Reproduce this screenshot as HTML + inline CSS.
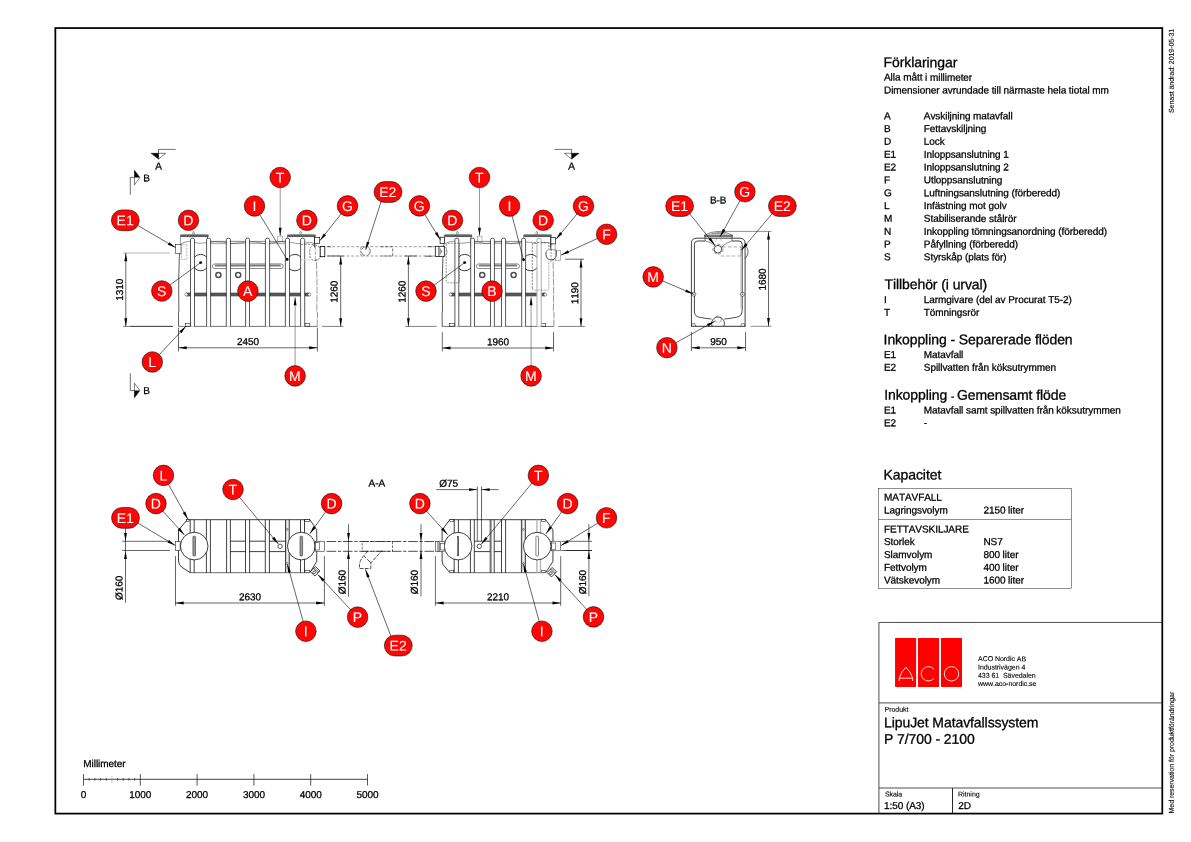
<!DOCTYPE html>
<html><head><meta charset="utf-8"><title>LipuJet Matavfallssystem</title>
<style>html,body{margin:0;padding:0;background:#fff}svg{display:block;will-change:transform}text{font-family:"Liberation Sans", sans-serif;text-rendering:geometricPrecision;stroke-linejoin:round;letter-spacing:-0.006em;font-kerning:none}</style></head><body>
<svg width="1191" height="842" viewBox="0 0 1191 842">
<rect x="0" y="0" width="1191" height="842" fill="#fff"/>
<rect x="55.35" y="28.05" width="1106.95" height="785.55" stroke="#000" stroke-width="1.75" fill="none"/>
<line x1="878.9" y1="622.45" x2="1162.3" y2="622.45" stroke="#222" stroke-width="0.8"/>
<line x1="878.9" y1="702.9" x2="1162.3" y2="702.9" stroke="#222" stroke-width="0.8"/>
<line x1="878.9" y1="788" x2="1162.3" y2="788" stroke="#222" stroke-width="0.8"/>
<line x1="878.9" y1="622.45" x2="878.9" y2="813.6" stroke="#222" stroke-width="0.8"/>
<line x1="952.5" y1="788" x2="952.5" y2="813.6" stroke="#111" stroke-width="0.9"/>
<rect x="895.05" y="638" width="21.05" height="48.95" stroke="#000" stroke-width="0" fill="#fe0000" rx="0.6"/>
<rect x="918" y="638" width="21.05" height="48.95" stroke="#000" stroke-width="0" fill="#fe0000" rx="0.6"/>
<rect x="940.95" y="638" width="21.05" height="48.95" stroke="#000" stroke-width="0" fill="#fe0000" rx="0.6"/>
<path d="M899.2 681 L899.2 678.2 Q901.2 671.2 905.8 667.4 Q910.6 671.2 912.7 678.2 L912.7 681 M899.2 678.2 L912.7 678.2" stroke="#fff" stroke-width="0.85" fill="none" />
<path d="M934.07 669.37 A7.2 7.2 0 1 0 934.07 678.23" stroke="#fff" stroke-width="0.85" fill="none" />
<circle cx="951.5" cy="673.8" r="7.2" stroke="#fff" stroke-width="0.85" fill="none"/>
<text x="978" y="661.1" font-size="7" fill="#000" stroke="#000" stroke-width="0.12" transform="rotate(0.05 978 661.1)" >ACO Nordic AB</text>
<text x="978" y="669.4" font-size="7" fill="#000" stroke="#000" stroke-width="0.12" transform="rotate(0.05 978 669.4)" >Industrivägen 4</text>
<text x="978" y="677.7" font-size="7" fill="#000" stroke="#000" stroke-width="0.12" transform="rotate(0.05 978 677.7)" >433 61&#160; Sävedalen</text>
<text x="978" y="686" font-size="7" fill="#000" stroke="#000" stroke-width="0.12" transform="rotate(0.05 978 686)" >www.aco-nordic.se</text>
<text x="884.6" y="711.7" font-size="7" fill="#000" stroke="#000" stroke-width="0.12" transform="rotate(0.05 884.6 711.7)" >Produkt</text>
<text x="884" y="727.2" font-size="14" fill="#000" stroke="#000" stroke-width="0.3" transform="rotate(0.05 884 727.2)" >LipuJet Matavfallssystem</text>
<text x="884" y="743.7" font-size="14" fill="#000" stroke="#000" stroke-width="0.3" transform="rotate(0.05 884 743.7)" >P 7/700 - 2100</text>
<text x="884.9" y="796.6" font-size="7" fill="#000" stroke="#000" stroke-width="0.12" transform="rotate(0.05 884.9 796.6)" >Skala</text>
<text x="884" y="808.9" font-size="10" fill="#000" stroke="#000" stroke-width="0.27" transform="rotate(0.05 884 808.9)" >1:50 (A3)</text>
<text x="958.1" y="796.6" font-size="7" fill="#000" stroke="#000" stroke-width="0.12" transform="rotate(0.05 958.1 796.6)" >Ritning</text>
<text x="958.3" y="808.9" font-size="10" fill="#000" stroke="#000" stroke-width="0.27" transform="rotate(0.05 958.3 808.9)" >2D</text>
<text x="1173.8" y="113" font-size="7" fill="#000" stroke="#000" stroke-width="0.12" transform="rotate(-89.95 1173.8 113)" >Senast ändrad: 2019-05-31</text>
<text x="1173.8" y="813.5" font-size="7" fill="#000" stroke="#000" stroke-width="0.12" transform="rotate(-89.95 1173.8 813.5)" >Med reservation för produktförändringar</text>
<text x="883.6" y="67.1" font-size="14" fill="#000" stroke="#000" stroke-width="0.3" transform="rotate(0.05 883.6 67.1)" >Förklaringar</text>
<text x="884" y="80.6" font-size="10" fill="#000" stroke="#000" stroke-width="0.27" transform="rotate(0.05 884 80.6)" >Alla mått i millimeter</text>
<text x="884" y="93.4" font-size="10" fill="#000" stroke="#000" stroke-width="0.27" transform="rotate(0.05 884 93.4)" >Dimensioner avrundade till närmaste hela tiotal mm</text>
<text x="884" y="119.2" font-size="10" fill="#000" stroke="#000" stroke-width="0.27" transform="rotate(0.05 884 119.2)" >A</text>
<text x="923.8" y="119.2" font-size="10" fill="#000" stroke="#000" stroke-width="0.27" transform="rotate(0.05 923.8 119.2)" >Avskiljning matavfall</text>
<text x="884" y="132.03" font-size="10" fill="#000" stroke="#000" stroke-width="0.27" transform="rotate(0.05 884 132.03)" >B</text>
<text x="923.8" y="132.03" font-size="10" fill="#000" stroke="#000" stroke-width="0.27" transform="rotate(0.05 923.8 132.03)" >Fettavskiljning</text>
<text x="884" y="144.86" font-size="10" fill="#000" stroke="#000" stroke-width="0.27" transform="rotate(0.05 884 144.86)" >D</text>
<text x="923.8" y="144.86" font-size="10" fill="#000" stroke="#000" stroke-width="0.27" transform="rotate(0.05 923.8 144.86)" >Lock</text>
<text x="884" y="157.69" font-size="10" fill="#000" stroke="#000" stroke-width="0.27" transform="rotate(0.05 884 157.69)" >E1</text>
<text x="923.8" y="157.69" font-size="10" fill="#000" stroke="#000" stroke-width="0.27" transform="rotate(0.05 923.8 157.69)" >Inloppsanslutning 1</text>
<text x="884" y="170.52" font-size="10" fill="#000" stroke="#000" stroke-width="0.27" transform="rotate(0.05 884 170.52)" >E2</text>
<text x="923.8" y="170.52" font-size="10" fill="#000" stroke="#000" stroke-width="0.27" transform="rotate(0.05 923.8 170.52)" >Inloppsanslutning 2</text>
<text x="884" y="183.35" font-size="10" fill="#000" stroke="#000" stroke-width="0.27" transform="rotate(0.05 884 183.35)" >F</text>
<text x="923.8" y="183.35" font-size="10" fill="#000" stroke="#000" stroke-width="0.27" transform="rotate(0.05 923.8 183.35)" >Utloppsanslutning</text>
<text x="884" y="196.18" font-size="10" fill="#000" stroke="#000" stroke-width="0.27" transform="rotate(0.05 884 196.18)" >G</text>
<text x="923.8" y="196.18" font-size="10" fill="#000" stroke="#000" stroke-width="0.27" transform="rotate(0.05 923.8 196.18)" >Luftningsanslutning (förberedd)</text>
<text x="884" y="209.01" font-size="10" fill="#000" stroke="#000" stroke-width="0.27" transform="rotate(0.05 884 209.01)" >L</text>
<text x="923.8" y="209.01" font-size="10" fill="#000" stroke="#000" stroke-width="0.27" transform="rotate(0.05 923.8 209.01)" >Infästning mot golv</text>
<text x="884" y="221.84" font-size="10" fill="#000" stroke="#000" stroke-width="0.27" transform="rotate(0.05 884 221.84)" >M</text>
<text x="923.8" y="221.84" font-size="10" fill="#000" stroke="#000" stroke-width="0.27" transform="rotate(0.05 923.8 221.84)" >Stabiliserande stålrör</text>
<text x="884" y="234.67" font-size="10" fill="#000" stroke="#000" stroke-width="0.27" transform="rotate(0.05 884 234.67)" >N</text>
<text x="923.8" y="234.67" font-size="10" fill="#000" stroke="#000" stroke-width="0.27" transform="rotate(0.05 923.8 234.67)" >Inkoppling tömningsanordning (förberedd)</text>
<text x="884" y="247.5" font-size="10" fill="#000" stroke="#000" stroke-width="0.27" transform="rotate(0.05 884 247.5)" >P</text>
<text x="923.8" y="247.5" font-size="10" fill="#000" stroke="#000" stroke-width="0.27" transform="rotate(0.05 923.8 247.5)" >Påfyllning (förberedd)</text>
<text x="884" y="260.33" font-size="10" fill="#000" stroke="#000" stroke-width="0.27" transform="rotate(0.05 884 260.33)" >S</text>
<text x="923.8" y="260.33" font-size="10" fill="#000" stroke="#000" stroke-width="0.27" transform="rotate(0.05 923.8 260.33)" >Styrskåp (plats för)</text>
<text x="884.5" y="289.1" font-size="14" fill="#000" stroke="#000" stroke-width="0.3" transform="rotate(0.05 884.5 289.1)" >Tillbehör (i urval)</text>
<text x="884" y="302.9" font-size="10" fill="#000" stroke="#000" stroke-width="0.27" transform="rotate(0.05 884 302.9)" >I</text>
<text x="923.8" y="302.9" font-size="10" fill="#000" stroke="#000" stroke-width="0.27" transform="rotate(0.05 923.8 302.9)" >Larmgivare (del av Procurat T5-2)</text>
<text x="884" y="315.73" font-size="10" fill="#000" stroke="#000" stroke-width="0.27" transform="rotate(0.05 884 315.73)" >T</text>
<text x="923.8" y="315.73" font-size="10" fill="#000" stroke="#000" stroke-width="0.27" transform="rotate(0.05 923.8 315.73)" >Tömningsrör</text>
<text x="883.6" y="344.2" font-size="14" fill="#000" stroke="#000" stroke-width="0.3" transform="rotate(0.05 883.6 344.2)" >Inkoppling - Separerade flöden</text>
<text x="884" y="357.9" font-size="10" fill="#000" stroke="#000" stroke-width="0.27" transform="rotate(0.05 884 357.9)" >E1</text>
<text x="923.8" y="357.9" font-size="10" fill="#000" stroke="#000" stroke-width="0.27" transform="rotate(0.05 923.8 357.9)" >Matavfall</text>
<text x="884" y="370.73" font-size="10" fill="#000" stroke="#000" stroke-width="0.27" transform="rotate(0.05 884 370.73)" >E2</text>
<text x="923.8" y="370.73" font-size="10" fill="#000" stroke="#000" stroke-width="0.27" transform="rotate(0.05 923.8 370.73)" >Spillvatten från köksutrymmen</text>
<text x="884.2" y="399.6" font-size="14" fill="#000" stroke="#000" stroke-width="0.3" transform="rotate(0.05 884.2 399.6)" >Inkoppling <tspan font-size="10">- </tspan>Gemensamt flöde</text>
<text x="884" y="413.4" font-size="10" fill="#000" stroke="#000" stroke-width="0.27" transform="rotate(0.05 884 413.4)" >E1</text>
<text x="923.8" y="413.4" font-size="10" fill="#000" stroke="#000" stroke-width="0.27" transform="rotate(0.05 923.8 413.4)" >Matavfall samt spillvatten från köksutrymmen</text>
<text x="884" y="426.23" font-size="10" fill="#000" stroke="#000" stroke-width="0.27" transform="rotate(0.05 884 426.23)" >E2</text>
<text x="923.8" y="426.23" font-size="10" fill="#000" stroke="#000" stroke-width="0.27" transform="rotate(0.05 923.8 426.23)" >-</text>
<text x="883.6" y="479.4" font-size="14" fill="#000" stroke="#000" stroke-width="0.3" transform="rotate(0.05 883.6 479.4)" >Kapacitet</text>
<rect x="878.5" y="488.6" width="192.8" height="99.8" stroke="#222" stroke-width="0.5" fill="none"/>
<line x1="878.5" y1="519.5" x2="1071.3" y2="519.5" stroke="#222" stroke-width="0.5"/>
<text x="884" y="500.6" font-size="10" fill="#000" stroke="#000" stroke-width="0.27" transform="rotate(0.05 884 500.6)" >MATAVFALL</text>
<text x="884" y="513.5" font-size="10" fill="#000" stroke="#000" stroke-width="0.27" transform="rotate(0.05 884 513.5)" >Lagringsvolym</text>
<text x="983.4" y="513.5" font-size="10" fill="#000" stroke="#000" stroke-width="0.27" transform="rotate(0.05 983.4 513.5)" >2150 liter</text>
<text x="884" y="532.4" font-size="10" fill="#000" stroke="#000" stroke-width="0.27" transform="rotate(0.05 884 532.4)" >FETTAVSKILJARE</text>
<text x="884" y="545.1" font-size="10" fill="#000" stroke="#000" stroke-width="0.27" transform="rotate(0.05 884 545.1)" >Storlek</text>
<text x="983.4" y="545.1" font-size="10" fill="#000" stroke="#000" stroke-width="0.27" transform="rotate(0.05 983.4 545.1)" >NS7</text>
<text x="884" y="557.9" font-size="10" fill="#000" stroke="#000" stroke-width="0.27" transform="rotate(0.05 884 557.9)" >Slamvolym</text>
<text x="983.4" y="557.9" font-size="10" fill="#000" stroke="#000" stroke-width="0.27" transform="rotate(0.05 983.4 557.9)" >800 liter</text>
<text x="884" y="570.7" font-size="10" fill="#000" stroke="#000" stroke-width="0.27" transform="rotate(0.05 884 570.7)" >Fettvolym</text>
<text x="983.4" y="570.7" font-size="10" fill="#000" stroke="#000" stroke-width="0.27" transform="rotate(0.05 983.4 570.7)" >400 liter</text>
<text x="884" y="583.5" font-size="10" fill="#000" stroke="#000" stroke-width="0.27" transform="rotate(0.05 884 583.5)" >Vätskevolym</text>
<text x="983.4" y="583.5" font-size="10" fill="#000" stroke="#000" stroke-width="0.27" transform="rotate(0.05 983.4 583.5)" >1600 liter</text>
<text x="83.3" y="767" font-size="10" fill="#000" stroke="#000" stroke-width="0.27" transform="rotate(0.05 83.3 767)" >Millimeter</text>
<line x1="83.5" y1="779.3" x2="367.5" y2="779.3" stroke="#111" stroke-width="0.8"/>
<line x1="83.5" y1="774.1" x2="83.5" y2="785.6" stroke="#111" stroke-width="0.7"/>
<text x="83.5" y="798" font-size="10" fill="#000" stroke="#000" stroke-width="0.27" text-anchor="middle" transform="rotate(0.05 83.5 798)" >0</text>
<line x1="140.3" y1="774.1" x2="140.3" y2="785.6" stroke="#111" stroke-width="0.7"/>
<text x="140.3" y="798" font-size="10" fill="#000" stroke="#000" stroke-width="0.27" text-anchor="middle" transform="rotate(0.05 140.3 798)" >1000</text>
<line x1="197.1" y1="774.1" x2="197.1" y2="785.6" stroke="#111" stroke-width="0.7"/>
<text x="197.1" y="798" font-size="10" fill="#000" stroke="#000" stroke-width="0.27" text-anchor="middle" transform="rotate(0.05 197.1 798)" >2000</text>
<line x1="253.9" y1="774.1" x2="253.9" y2="785.6" stroke="#111" stroke-width="0.7"/>
<text x="253.9" y="798" font-size="10" fill="#000" stroke="#000" stroke-width="0.27" text-anchor="middle" transform="rotate(0.05 253.9 798)" >3000</text>
<line x1="310.7" y1="774.1" x2="310.7" y2="785.6" stroke="#111" stroke-width="0.7"/>
<text x="310.7" y="798" font-size="10" fill="#000" stroke="#000" stroke-width="0.27" text-anchor="middle" transform="rotate(0.05 310.7 798)" >4000</text>
<line x1="367.5" y1="774.1" x2="367.5" y2="785.6" stroke="#111" stroke-width="0.7"/>
<text x="367.5" y="798" font-size="10" fill="#000" stroke="#000" stroke-width="0.27" text-anchor="middle" transform="rotate(0.05 367.5 798)" >5000</text>
<line x1="89.18" y1="777.9" x2="89.18" y2="780.7" stroke="#111" stroke-width="0.6"/>
<line x1="94.86" y1="777.9" x2="94.86" y2="780.7" stroke="#111" stroke-width="0.6"/>
<line x1="100.54" y1="777.9" x2="100.54" y2="780.7" stroke="#111" stroke-width="0.6"/>
<line x1="106.22" y1="777.9" x2="106.22" y2="780.7" stroke="#111" stroke-width="0.6"/>
<line x1="111.9" y1="776.2" x2="111.9" y2="782.9" stroke="#999" stroke-width="0.7"/>
<line x1="117.58" y1="777.9" x2="117.58" y2="780.7" stroke="#111" stroke-width="0.6"/>
<line x1="123.26" y1="777.9" x2="123.26" y2="780.7" stroke="#111" stroke-width="0.6"/>
<line x1="128.94" y1="777.9" x2="128.94" y2="780.7" stroke="#111" stroke-width="0.6"/>
<line x1="134.62" y1="777.9" x2="134.62" y2="780.7" stroke="#111" stroke-width="0.6"/>
<line x1="130" y1="326.4" x2="172.8" y2="326.4" stroke="#000" stroke-width="0.5"/>
<line x1="322" y1="326.4" x2="343.4" y2="326.4" stroke="#000" stroke-width="0.5"/>
<line x1="405.2" y1="326.4" x2="436.6" y2="326.4" stroke="#000" stroke-width="0.5"/>
<line x1="558.3" y1="326.4" x2="584.9" y2="326.4" stroke="#000" stroke-width="0.5"/>
<line x1="327.2" y1="246.7" x2="435.3" y2="246.7" stroke="#9a9a9a" stroke-width="0.9" stroke-dasharray="3.1 1.7"/>
<line x1="327.2" y1="256" x2="435.3" y2="256" stroke="#9a9a9a" stroke-width="0.9" stroke-dasharray="3.1 1.7"/>
<line x1="327.2" y1="246.7" x2="330.8" y2="246.7" stroke="#222" stroke-width="0.7"/>
<path d="M380.6 246.7 L392.7 246.7 L392.7 256.0 L380.6 256.0" stroke="#222" stroke-width="0.6" fill="none" stroke-dasharray="3.2 1.4" />
<path d="M361.2 246.9 Q359.4 251.3 361.2 255.8" stroke="#333" stroke-width="0.55" fill="none" stroke-dasharray="2.4 1.2" />
<circle cx="365.8" cy="251.2" r="4.5" stroke="#222" stroke-width="0.6" fill="none" stroke-dasharray="5.5 2.2"/>
<path d="M178.6 326.4 L178.5 312.5 L178.9 312 Q178.1 272 180.1 244.6 " stroke="#000" stroke-width="0.65" fill="none" />
<path d="M317.2 326.4 L317.5 312.5 L316.7 312 Q317.5 285 316.3 259 " stroke="#333" stroke-width="0.5" fill="none" stroke-dasharray="7 1.2" />
<line x1="178.6" y1="326.4" x2="317.2" y2="326.4" stroke="#000" stroke-width="0.55"/>
<path d="M180.2 244.4 Q184.2 241.5 190.2 241.2 Q198.45 244.6 206.7 242.8 Q214.95 241 223.2 242.2 Q231.45 244.6 239.7 242.8 Q247.95 241 256.2 242.2 Q264.45 244.6 272.7 242.8 Q280.95 241 289.2 242.2 Q297.45 244.6 305.7 242.8 Q311.7 241.5 315.7 244.2" stroke="#333" stroke-width="0.5" fill="none" />
<line x1="208.6" y1="241.4" x2="287.2" y2="241.4" stroke="#222" stroke-width="0.55"/>
<line x1="210.6" y1="243.6" x2="285.2" y2="243.6" stroke="#000" stroke-width="0.35"/>
<path d="M181.6 235.0 Q194.35 233.6 207.1 235.0" stroke="#888" stroke-width="0.45" fill="none" />
<rect x="180.1" y="234.9" width="28.5" height="1.9" stroke="#000" stroke-width="0" fill="#8c8c8c"/>
<line x1="180.1" y1="235.05" x2="208.6" y2="235.05" stroke="#222" stroke-width="0.7"/>
<line x1="180.5" y1="236.55" x2="208.2" y2="236.55" stroke="#333" stroke-width="0.7"/>
<line x1="180.45" y1="236.4" x2="180.45" y2="244" stroke="#777" stroke-width="0.7"/>
<line x1="207.4" y1="236.4" x2="207.4" y2="247.5" stroke="#222" stroke-width="0.7"/>
<path d="M192.85 234.5 L192.85 231.8 Q193.55 231.0 194.25 231.8 L194.25 234.5" stroke="#444" stroke-width="0.5" fill="none" />
<path d="M288.7 235.0 Q301.45 233.6 314.2 235.0" stroke="#888" stroke-width="0.45" fill="none" />
<rect x="287.2" y="234.9" width="28.5" height="1.9" stroke="#000" stroke-width="0" fill="#8c8c8c"/>
<line x1="287.2" y1="235.05" x2="315.7" y2="235.05" stroke="#222" stroke-width="0.7"/>
<line x1="287.6" y1="236.55" x2="315.3" y2="236.55" stroke="#333" stroke-width="0.7"/>
<line x1="287.55" y1="236.4" x2="287.55" y2="244" stroke="#777" stroke-width="0.7"/>
<line x1="314.5" y1="236.4" x2="314.5" y2="247.5" stroke="#222" stroke-width="0.7"/>
<path d="M299.95 234.5 L299.95 231.8 Q300.65 231.0 301.35 231.8 L301.35 234.5" stroke="#444" stroke-width="0.5" fill="none" />
<circle cx="200.6" cy="262.6" r="8.2" stroke="#000" stroke-width="0.75" fill="none"/>
<circle cx="294.9" cy="262.6" r="8.2" stroke="#000" stroke-width="0.75" fill="none"/>
<rect x="212.4" y="263.9" width="70.8" height="4.6" stroke="#000" stroke-width="0.45" fill="none" rx="2.3"/>
<rect x="214.9" y="264.5" width="65.8" height="2" stroke="#000" stroke-width="0" fill="#7a7a7a"/>
<circle cx="218.4" cy="275" r="2.55" stroke="#505050" stroke-width="1.5" fill="none"/>
<circle cx="238.2" cy="275" r="2.55" stroke="#505050" stroke-width="1.5" fill="none"/>
<rect x="186.7" y="292.85" width="122.4" height="3.3" stroke="#444" stroke-width="0.2" fill="#545454"/>
<circle cx="186.4" cy="294.5" r="1.5" stroke="#000" stroke-width="0.4" fill="#fff"/>
<circle cx="309.4" cy="294.5" r="1.5" stroke="#000" stroke-width="0.4" fill="#fff"/>
<rect x="185.4" y="323.6" width="4.8" height="2.6" stroke="#000" stroke-width="0.5" fill="none"/>
<rect x="305" y="323.6" width="4.8" height="2.6" stroke="#000" stroke-width="0.5" fill="none"/>
<rect x="277.8" y="236.1" width="4.6" height="5.3" stroke="#666" stroke-width="0.45" fill="none"/>
<path d="M190.5 326.4 L190.5 239.6 Q190.5 238.2 192.5 238.2 Q194.5 238.2 194.5 239.6 L194.5 326.4" fill="#fff" stroke="#000" stroke-width="0.65"/>
<path d="M206.6 326.4 L206.6 239.6 Q206.6 238.2 208.6 238.2 Q210.6 238.2 210.6 239.6 L210.6 326.4" fill="#fff" stroke="#000" stroke-width="0.65"/>
<path d="M226.3 326.4 L226.3 239.6 Q226.3 238.2 228.4 238.2 Q230.5 238.2 230.5 239.6 L230.5 326.4" fill="#fff" stroke="#000" stroke-width="0.65"/>
<path d="M245.6 326.4 L245.6 239.6 Q245.6 238.2 247.55 238.2 Q249.5 238.2 249.5 239.6 L249.5 326.4" fill="#fff" stroke="#000" stroke-width="0.65"/>
<path d="M265.4 326.4 L265.4 239.6 Q265.4 238.2 267.5 238.2 Q269.6 238.2 269.6 239.6 L269.6 326.4" fill="#fff" stroke="#000" stroke-width="0.65"/>
<path d="M285.4 326.4 L285.4 239.6 Q285.4 238.2 287.45 238.2 Q289.5 238.2 289.5 239.6 L289.5 326.4" fill="#fff" stroke="#000" stroke-width="0.65"/>
<path d="M300.6 326.4 L300.6 239.6 Q300.6 238.2 302.65 238.2 Q304.7 238.2 304.7 239.6 L304.7 326.4" fill="#fff" stroke="#000" stroke-width="0.65"/>
<rect x="175.4" y="244.5" width="5.6" height="8.9" stroke="#000" stroke-width="0.5" fill="#fff"/>
<rect x="181.6" y="244.2" width="5.2" height="15.3" stroke="#555" stroke-width="0.4" fill="none" stroke-dasharray="2 1"/>
<rect x="314.6" y="237.3" width="5.1" height="6" stroke="#000" stroke-width="0.65" fill="#fff"/>
<rect x="309.8" y="245.3" width="10.5" height="15.2" stroke="#222" stroke-width="0.6" fill="none" rx="5" stroke-dasharray="2.2 1.1"/>
<line x1="315.3" y1="246" x2="315.3" y2="262" stroke="#333" stroke-width="0.5" stroke-dasharray="3 1 0.8 1"/>
<rect x="320.2" y="246.4" width="4.6" height="10.3" stroke="#000" stroke-width="0.8" fill="#fff"/>
<line x1="300.6" y1="244.4" x2="314" y2="244.4" stroke="#333" stroke-width="0.55" stroke-dasharray="2.4 1.2"/>
<line x1="301" y1="259.9" x2="309.8" y2="259.9" stroke="#c8c8c8" stroke-width="0.9" stroke-dasharray="1.6 0.8"/>
<path d="M442.2 326.4 L442.1 312.5 L442.5 312 Q441.7 272 443.7 244.6 " stroke="#000" stroke-width="0.65" fill="none" />
<path d="M553.8 326.4 L554.1 312.5 L553.3 312 Q554.1 285 552.9 259 " stroke="#333" stroke-width="0.5" fill="none" stroke-dasharray="7 1.2" />
<line x1="442.2" y1="326.4" x2="553.8" y2="326.4" stroke="#000" stroke-width="0.55"/>
<path d="M443.8 244.4 Q447.8 241.5 453.8 241.2 Q460.12 244.6 466.44 242.8 Q472.76 241 479.09 242.2 Q485.41 244.6 491.73 242.8 Q498.05 241 504.37 242.2 Q510.69 244.6 517.01 242.8 Q523.34 241 529.66 242.2 Q535.98 244.6 542.3 242.8 Q548.3 241.5 552.3 244.2" stroke="#333" stroke-width="0.5" fill="none" />
<line x1="472.2" y1="241.4" x2="523.4" y2="241.4" stroke="#222" stroke-width="0.55"/>
<line x1="474.2" y1="243.6" x2="521.4" y2="243.6" stroke="#000" stroke-width="0.35"/>
<path d="M445.7 235.0 Q458.2 233.6 470.7 235.0" stroke="#888" stroke-width="0.45" fill="none" />
<rect x="444.2" y="234.9" width="28" height="1.9" stroke="#000" stroke-width="0" fill="#8c8c8c"/>
<line x1="444.2" y1="235.05" x2="472.2" y2="235.05" stroke="#222" stroke-width="0.7"/>
<line x1="444.6" y1="236.55" x2="471.8" y2="236.55" stroke="#333" stroke-width="0.7"/>
<line x1="444.55" y1="236.4" x2="444.55" y2="244" stroke="#777" stroke-width="0.7"/>
<line x1="471" y1="236.4" x2="471" y2="247.5" stroke="#222" stroke-width="0.7"/>
<path d="M456.7 234.5 L456.7 231.8 Q457.4 231.0 458.1 231.8 L458.1 234.5" stroke="#444" stroke-width="0.5" fill="none" />
<path d="M524.9 235.0 Q537.55 233.6 550.2 235.0" stroke="#888" stroke-width="0.45" fill="none" />
<rect x="523.4" y="234.9" width="28.3" height="1.9" stroke="#000" stroke-width="0" fill="#8c8c8c"/>
<line x1="523.4" y1="235.05" x2="551.7" y2="235.05" stroke="#222" stroke-width="0.7"/>
<line x1="523.8" y1="236.55" x2="551.3" y2="236.55" stroke="#333" stroke-width="0.7"/>
<line x1="523.75" y1="236.4" x2="523.75" y2="244" stroke="#777" stroke-width="0.7"/>
<line x1="550.5" y1="236.4" x2="550.5" y2="247.5" stroke="#222" stroke-width="0.7"/>
<path d="M536.05 234.5 L536.05 231.8 Q536.75 231.0 537.45 231.8 L537.45 234.5" stroke="#444" stroke-width="0.5" fill="none" />
<circle cx="464.7" cy="262.6" r="8.2" stroke="#000" stroke-width="0.75" fill="none"/>
<circle cx="530.8" cy="262.6" r="8.2" stroke="#000" stroke-width="0.75" fill="none"/>
<rect x="476.4" y="263.9" width="43.1" height="4.6" stroke="#000" stroke-width="0.45" fill="none" rx="2.3"/>
<rect x="478.9" y="264.5" width="38.1" height="2" stroke="#000" stroke-width="0" fill="#7a7a7a"/>
<circle cx="482.2" cy="275" r="2.55" stroke="#505050" stroke-width="1.5" fill="none"/>
<circle cx="513.6" cy="275" r="2.55" stroke="#505050" stroke-width="1.5" fill="none"/>
<rect x="450.9" y="292.85" width="94.1" height="3.3" stroke="#444" stroke-width="0.2" fill="#545454"/>
<circle cx="450.6" cy="294.5" r="1.5" stroke="#000" stroke-width="0.4" fill="#fff"/>
<circle cx="545.3" cy="294.5" r="1.5" stroke="#000" stroke-width="0.4" fill="#fff"/>
<rect x="449.6" y="323.6" width="4.8" height="2.6" stroke="#000" stroke-width="0.5" fill="none"/>
<rect x="541" y="323.6" width="4.8" height="2.6" stroke="#000" stroke-width="0.5" fill="none"/>
<rect x="477.4" y="236.1" width="4.6" height="5.3" stroke="#666" stroke-width="0.45" fill="none"/>
<path d="M454.9 326.4 L454.9 239.6 Q454.9 238.2 456.85 238.2 Q458.8 238.2 458.8 239.6 L458.8 326.4" fill="#fff" stroke="#000" stroke-width="0.65"/>
<path d="M470.7 326.4 L470.7 239.6 Q470.7 238.2 472.6 238.2 Q474.5 238.2 474.5 239.6 L474.5 326.4" fill="#fff" stroke="#000" stroke-width="0.65"/>
<path d="M490.5 326.4 L490.5 239.6 Q490.5 238.2 492.45 238.2 Q494.4 238.2 494.4 239.6 L494.4 326.4" fill="#fff" stroke="#000" stroke-width="0.65"/>
<path d="M501.5 326.4 L501.5 239.6 Q501.5 238.2 503.55 238.2 Q505.6 238.2 505.6 239.6 L505.6 326.4" fill="#fff" stroke="#000" stroke-width="0.65"/>
<path d="M521.7 326.4 L521.7 239.6 Q521.7 238.2 523.65 238.2 Q525.6 238.2 525.6 239.6 L525.6 326.4" fill="#fff" stroke="#000" stroke-width="0.65"/>
<path d="M537 326.4 L537 239.6 Q537 238.2 539.1 238.2 Q541.2 238.2 541.2 239.6 L541.2 326.4" fill="#fff" stroke="#b4b4b4" stroke-width="1.1"/>
<rect x="446.2" y="243.4" width="13.4" height="39.4" stroke="#333" stroke-width="0.5" fill="none" rx="1.5" stroke-dasharray="2 1"/>
<path d="M532.3 288.4 L532.3 244.6 Q532.3 242.6 534.3 242.6 L546.8 242.6 Q548.9 242.6 548.9 244.8 L548.9 249" stroke="#222" stroke-width="0.55" fill="none" stroke-dasharray="2.2 1.1" />
<path d="M532.3 288.4 Q532.3 290.2 534.2 290.2 L547.0 290.2 Q548.9 290.2 548.9 288.4 L548.9 261" stroke="#555" stroke-width="0.5" fill="none" stroke-dasharray="2 1" />
<rect x="435.3" y="246.3" width="9" height="10.2" stroke="#000" stroke-width="0.75" fill="#fff"/>
<line x1="438.9" y1="246.3" x2="438.9" y2="256.5" stroke="#000" stroke-width="0.7"/>
<path d="M439.2 246.8 L442.6 251.4 L439.2 256.0 Z" stroke="#000" stroke-width="0" fill="#9c9c9c" />
<path d="M444.3 246.5 Q449.9 251.4 444.3 256.4" stroke="#333" stroke-width="0.55" fill="none" stroke-dasharray="2 1" />
<rect x="440.1" y="237.2" width="4.4" height="6.3" stroke="#000" stroke-width="0.7" fill="#fff"/>
<line x1="427.5" y1="246.7" x2="432.6" y2="246.7" stroke="#222" stroke-width="0.7"/>
<line x1="425" y1="256.2" x2="432.6" y2="256.2" stroke="#222" stroke-width="0.7"/>
<rect x="550.9" y="237.5" width="4.6" height="6.4" stroke="#000" stroke-width="0.65" fill="#fff"/>
<line x1="550.9" y1="243.9" x2="550.9" y2="250" stroke="#222" stroke-width="0.8"/>
<line x1="555.2" y1="243.9" x2="555.2" y2="250" stroke="#666" stroke-width="0.5"/>
<path d="M546.0 252.0 L546.0 254.8 A5.2 5.2 0 0 0 556.4 254.8 L556.4 250.2" stroke="#222" stroke-width="0.8" fill="none" />
<path d="M546.0 252.0 Q546.2 249.9 548.5 249.8 L556.4 249.8" stroke="#555" stroke-width="0.55" fill="none" />
<line x1="551" y1="249" x2="551" y2="262" stroke="#333" stroke-width="0.5" stroke-dasharray="2 1"/>
<line x1="555.2" y1="250" x2="555.2" y2="262" stroke="#555" stroke-width="0.5" stroke-dasharray="2 1"/>
<rect x="555.7" y="250.7" width="5" height="9.6" stroke="#999" stroke-width="0.7" fill="none"/>
<line x1="129.1" y1="220.3" x2="175.6" y2="247.6" stroke="#000" stroke-width="0.6"/>
<polygon points="175.6,247.6 167.79,244.7 169.26,242.2" fill="#000"/>
<line x1="254.5" y1="206" x2="287.1" y2="259.4" stroke="#000" stroke-width="0.6"/>
<circle cx="287.1" cy="259.4" r="1.45" stroke="#000" stroke-width="0" fill="#000"/>
<line x1="280.2" y1="177.5" x2="280.2" y2="236" stroke="#444" stroke-width="0.55"/>
<polygon points="280.2,236 278.75,227.8 281.65,227.8" fill="#000"/>
<line x1="347.5" y1="205.9" x2="319.8" y2="240.7" stroke="#000" stroke-width="0.6"/>
<polygon points="319.8,240.7 323.77,233.38 326.04,235.19" fill="#000"/>
<line x1="384.2" y1="192" x2="365.6" y2="249.9" stroke="#000" stroke-width="0.6"/>
<polygon points="365.6,249.9 366.73,241.65 369.49,242.54" fill="#000"/>
<line x1="419.4" y1="205.9" x2="440.4" y2="239.8" stroke="#000" stroke-width="0.6"/>
<polygon points="440.4,239.8 434.85,233.59 437.31,232.07" fill="#000"/>
<line x1="479.5" y1="177.5" x2="479.5" y2="235.9" stroke="#444" stroke-width="0.55"/>
<polygon points="479.5,235.9 478.05,227.7 480.95,227.7" fill="#000"/>
<line x1="509.6" y1="206.1" x2="523.5" y2="259.7" stroke="#000" stroke-width="0.6"/>
<circle cx="523.5" cy="259.7" r="1.45" stroke="#000" stroke-width="0" fill="#000"/>
<line x1="583.5" y1="206.1" x2="556" y2="239.3" stroke="#000" stroke-width="0.6"/>
<polygon points="556,239.3 560.11,232.06 562.35,233.91" fill="#000"/>
<line x1="606.6" y1="234.3" x2="561.1" y2="255.1" stroke="#000" stroke-width="0.6"/>
<polygon points="561.1,255.1 567.95,250.37 569.16,253.01" fill="#000"/>
<line x1="161.8" y1="291" x2="200.7" y2="262.6" stroke="#000" stroke-width="0.6"/>
<circle cx="200.7" cy="262.6" r="1.45" stroke="#000" stroke-width="0" fill="#000"/>
<line x1="426" y1="291.1" x2="464.7" y2="262.6" stroke="#000" stroke-width="0.6"/>
<circle cx="464.7" cy="262.6" r="1.45" stroke="#000" stroke-width="0" fill="#000"/>
<line x1="152.3" y1="362" x2="186" y2="326.2" stroke="#000" stroke-width="0.6"/>
<polygon points="186,326.2 181.44,333.16 179.32,331.18" fill="#000"/>
<line x1="295.1" y1="375.9" x2="295.1" y2="297.3" stroke="#444" stroke-width="0.55"/>
<polygon points="295.1,297 296.55,305.2 293.65,305.2" fill="#000"/>
<line x1="531.1" y1="375.9" x2="531.1" y2="297.3" stroke="#444" stroke-width="0.55"/>
<polygon points="531.1,297 532.55,305.2 529.65,305.2" fill="#000"/>
<line x1="123.1" y1="253" x2="169.9" y2="253" stroke="#999" stroke-width="0.7"/>
<line x1="123.1" y1="326.4" x2="173" y2="326.4" stroke="#000" stroke-width="0.5"/>
<line x1="125.8" y1="253" x2="125.8" y2="326.4" stroke="#000" stroke-width="0.6"/>
<polygon points="125.8,253 127.25,261.2 124.35,261.2" fill="#000"/>
<polygon points="125.8,326.4 124.35,318.2 127.25,318.2" fill="#000"/>
<text x="123" y="289.7" font-size="10" fill="#000" stroke="#000" stroke-width="0.27" text-anchor="middle" transform="rotate(-89.95 123 289.7)" >1310</text>
<line x1="178.5" y1="327.6" x2="178.5" y2="351.5" stroke="#000" stroke-width="0.6"/>
<line x1="317.4" y1="327.6" x2="317.4" y2="351.5" stroke="#000" stroke-width="0.6"/>
<line x1="178.5" y1="347.8" x2="317.4" y2="347.8" stroke="#000" stroke-width="0.6"/>
<polygon points="178.5,347.8 186.7,346.35 186.7,349.25" fill="#000"/>
<polygon points="317.4,347.8 309.2,349.25 309.2,346.35" fill="#000"/>
<text x="247.95" y="345" font-size="10" fill="#000" stroke="#000" stroke-width="0.27" text-anchor="middle" transform="rotate(0.05 247.95 345)" >2450</text>
<line x1="327.2" y1="256" x2="343.5" y2="256" stroke="#000" stroke-width="0.6"/>
<line x1="340.7" y1="256.2" x2="340.7" y2="326.4" stroke="#000" stroke-width="0.6"/>
<polygon points="340.7,256.2 342.15,264.4 339.25,264.4" fill="#000"/>
<polygon points="340.7,326.4 339.25,318.2 342.15,318.2" fill="#000"/>
<text x="337.6" y="291.7" font-size="10" fill="#000" stroke="#000" stroke-width="0.27" text-anchor="middle" transform="rotate(-89.95 337.6 291.7)" >1260</text>
<line x1="404.8" y1="256" x2="416.9" y2="256" stroke="#000" stroke-width="0.6"/>
<line x1="408.4" y1="256.2" x2="408.4" y2="326.4" stroke="#000" stroke-width="0.6"/>
<polygon points="408.4,256.2 409.85,264.4 406.95,264.4" fill="#000"/>
<polygon points="408.4,326.4 406.95,318.2 409.85,318.2" fill="#000"/>
<text x="405.6" y="291.7" font-size="10" fill="#000" stroke="#000" stroke-width="0.27" text-anchor="middle" transform="rotate(-89.95 405.6 291.7)" >1260</text>
<line x1="442.3" y1="332.2" x2="442.3" y2="351.4" stroke="#000" stroke-width="0.6"/>
<line x1="553.5" y1="332.2" x2="553.5" y2="351.4" stroke="#000" stroke-width="0.6"/>
<line x1="442.3" y1="348" x2="553.5" y2="348" stroke="#000" stroke-width="0.6"/>
<polygon points="442.3,348 450.5,346.55 450.5,349.45" fill="#000"/>
<polygon points="553.5,348 545.3,349.45 545.3,346.55" fill="#000"/>
<text x="497.9" y="345.2" font-size="10" fill="#000" stroke="#000" stroke-width="0.27" text-anchor="middle" transform="rotate(0.05 497.9 345.2)" >1960</text>
<line x1="564.9" y1="259.2" x2="584" y2="259.2" stroke="#000" stroke-width="0.6"/>
<line x1="581" y1="259.2" x2="581" y2="326.4" stroke="#000" stroke-width="0.6"/>
<polygon points="581,259.2 582.45,267.4 579.55,267.4" fill="#000"/>
<polygon points="581,326.4 579.55,318.2 582.45,318.2" fill="#000"/>
<text x="578.2" y="293.3" font-size="10" fill="#000" stroke="#000" stroke-width="0.27" text-anchor="middle" transform="rotate(-89.95 578.2 293.3)" >1190</text>
<path d="M175.7 149.4 L158.5 149.4 L158.5 159" stroke="#333" stroke-width="0.7" fill="none" />
<path d="M151.1 153.3 L165.7 153.3 L158.5 159.1 Z" stroke="#000" stroke-width="0.5" fill="none" />
<path d="M151.1 153.3 L158.5 153.3 L158.5 159.1 Z" stroke="#000" stroke-width="0" fill="#000" />
<text x="158.5" y="169.6" font-size="10" fill="#000" stroke="#000" stroke-width="0.27" text-anchor="middle" transform="rotate(0.05 158.5 169.6)" >A</text>
<path d="M554.4 149.4 L571.6 149.4 L571.6 159" stroke="#333" stroke-width="0.7" fill="none" />
<path d="M564.4 153.3 L579 153.3 L571.6 159.1 Z" stroke="#000" stroke-width="0.5" fill="none" />
<path d="M571.6 153.3 L579 153.3 L571.6 159.1 Z" stroke="#000" stroke-width="0" fill="#000" />
<text x="571.6" y="169.6" font-size="10" fill="#000" stroke="#000" stroke-width="0.27" text-anchor="middle" transform="rotate(0.05 571.6 169.6)" >A</text>
<path d="M130.3 194.8 L130.3 177.4 L134.4 177.4" stroke="#333" stroke-width="0.7" fill="none" />
<path d="M134.4 170.3 L134.4 184.9 L139.9 177.5 Z" stroke="#000" stroke-width="0.5" fill="none" />
<path d="M134.4 170.3 L134.4 177.5 L139.9 177.5 Z" stroke="#000" stroke-width="0" fill="#000" />
<text x="143.2" y="181.4" font-size="10" fill="#000" stroke="#000" stroke-width="0.27" transform="rotate(0.05 143.2 181.4)" >B</text>
<path d="M130.3 373.2 L130.3 390.5 L134.4 390.5" stroke="#333" stroke-width="0.7" fill="none" />
<path d="M134.4 383.2 L134.4 397.8 L139.9 390.5 Z" stroke="#000" stroke-width="0.5" fill="none" />
<path d="M134.4 390.5 L134.4 397.8 L139.9 390.5 Z" stroke="#000" stroke-width="0" fill="#000" />
<text x="143.2" y="394" font-size="10" fill="#000" stroke="#000" stroke-width="0.27" transform="rotate(0.05 143.2 394)" >B</text>
<path d="M691.4 326.3 L691.4 243.5 Q691.4 238.2 696.7 238.2 L739.8 238.2 Q745.1 238.2 745.1 243.5 L745.1 326.3" stroke="#000" stroke-width="0.75" fill="none" />
<path d="M694.4 244.2 Q694.4 241 697.6 241 L705 241" stroke="#000" stroke-width="0.75" fill="none" />
<path d="M732 241 L739 241 Q742.2 241 742.2 244.2" stroke="#000" stroke-width="0.75" fill="none" />
<line x1="694.4" y1="244.2" x2="694.4" y2="311.7" stroke="#000" stroke-width="0.75"/>
<line x1="742.2" y1="244.2" x2="742.2" y2="310.2" stroke="#000" stroke-width="0.75"/>
<line x1="741" y1="256" x2="741" y2="308" stroke="#b8b8b8" stroke-width="1"/>
<path d="M694.4 311.7 Q694.7 317.2 700.5 317.4 Q706 318.6 711.6 319.0" stroke="#000" stroke-width="0.7" fill="none" />
<path d="M742.2 310.2 Q742 316.6 736.5 317.2 Q730 318.6 724.4 319.0" stroke="#000" stroke-width="0.7" fill="none" />
<line x1="691.4" y1="326.3" x2="745.5" y2="326.3" stroke="#000" stroke-width="0.8"/>
<path d="M691.4 326.2 L692.4 323.6 L694.8 323.6 L695.7 326.2" stroke="#000" stroke-width="0.45" fill="none" />
<path d="M740.6 326.2 L741.6 323.6 L744.4 323.6 L745.4 326.2" stroke="#000" stroke-width="0.45" fill="none" />
<circle cx="693.9" cy="294.2" r="2" stroke="#000" stroke-width="0.5" fill="#fff"/>
<circle cx="693.9" cy="294.2" r="0.7" stroke="#000" stroke-width="0" fill="#555"/>
<circle cx="742.6" cy="294.3" r="2" stroke="#000" stroke-width="0.5" fill="#fff"/>
<circle cx="742.6" cy="294.3" r="0.7" stroke="#000" stroke-width="0" fill="#555"/>
<path d="M712.2 326.2 A6.4 6.4 0 1 1 723.8 326.2" stroke="#000" stroke-width="0.7" fill="none" />
<circle cx="718" cy="319.3" r="3.4" stroke="#333" stroke-width="0.45" fill="none" stroke-dasharray="4 2"/>
<path d="M704.3 235.3 Q718.4 227.5 732.6 235.3" stroke="#000" stroke-width="0.5" fill="none" />
<path d="M704.3 235.2 L732.6 235.2 L732.0 236.8 L705.0 236.8 Z" stroke="#222" stroke-width="0.3" fill="#666" />
<path d="M708 234.6 Q718.4 229.4 729 234.6 Z" stroke="#000" stroke-width="0" fill="#999" />
<line x1="704.6" y1="235.2" x2="705.2" y2="241" stroke="#000" stroke-width="0.5"/>
<line x1="732.3" y1="235.2" x2="731.8" y2="241" stroke="#000" stroke-width="0.5"/>
<path d="M705.2 241.0 Q711 242.2 714.8 245.4" stroke="#000" stroke-width="0.45" fill="none" />
<path d="M721.6 247.0 Q726 242.6 731.8 241.0" stroke="#000" stroke-width="0.45" fill="none" />
<path d="M715.6 241.4 L717.2 238.0 M721.6 241.4 L720.2 238.0" stroke="#666" stroke-width="0.4" fill="none" />
<circle cx="717.9" cy="249.2" r="3.8" stroke="#000" stroke-width="0.7" fill="none"/>
<circle cx="717.9" cy="249.2" r="5" stroke="#333" stroke-width="0.5" fill="none" stroke-dasharray="3 1.5"/>
<line x1="722.3" y1="246.9" x2="740.9" y2="246.9" stroke="#999" stroke-width="0.8" stroke-dasharray="3.6 2"/>
<line x1="720.6" y1="256" x2="740.9" y2="256" stroke="#999" stroke-width="0.8" stroke-dasharray="3.6 2"/>
<line x1="740.9" y1="246.9" x2="740.9" y2="256" stroke="#333" stroke-width="0.45"/>
<path d="M745.1 245.0 Q751.2 251.6 745.1 258.6" stroke="#000" stroke-width="0.6" fill="none" />
<text x="718.2" y="203.4" font-size="10" fill="#000" stroke="#000" stroke-width="0.27" text-anchor="middle" transform="rotate(0.05 718.2 203.4)" >B-B</text>
<line x1="723.5" y1="231.4" x2="771.5" y2="231.4" stroke="#000" stroke-width="0.45"/>
<line x1="750.7" y1="326.3" x2="771.5" y2="326.3" stroke="#000" stroke-width="0.45"/>
<line x1="768.5" y1="231.4" x2="768.5" y2="326.3" stroke="#000" stroke-width="0.6"/>
<polygon points="768.5,231.4 769.95,239.6 767.05,239.6" fill="#000"/>
<polygon points="768.5,326.3 767.05,318.1 769.95,318.1" fill="#000"/>
<text x="765.8" y="279.4" font-size="10" fill="#000" stroke="#000" stroke-width="0.27" text-anchor="middle" transform="rotate(-89.95 765.8 279.4)" >1680</text>
<line x1="691.4" y1="332.1" x2="691.4" y2="351" stroke="#000" stroke-width="0.6"/>
<line x1="745.5" y1="332.1" x2="745.5" y2="351" stroke="#000" stroke-width="0.6"/>
<line x1="691.4" y1="347.8" x2="745.5" y2="347.8" stroke="#000" stroke-width="0.6"/>
<polygon points="691.4,347.8 699.6,346.35 699.6,349.25" fill="#000"/>
<polygon points="745.5,347.8 737.3,349.25 737.3,346.35" fill="#000"/>
<text x="718.45" y="345" font-size="10" fill="#000" stroke="#000" stroke-width="0.27" text-anchor="middle" transform="rotate(0.05 718.45 345)" >950</text>
<line x1="683.4" y1="206" x2="714.8" y2="245" stroke="#000" stroke-width="0.6"/>
<polygon points="714.8,245 708.53,239.52 710.79,237.7" fill="#000"/>
<line x1="744.9" y1="191.8" x2="720.1" y2="236.7" stroke="#000" stroke-width="0.6"/>
<polygon points="720.1,236.7 722.8,228.82 725.33,230.22" fill="#000"/>
<line x1="778.6" y1="206" x2="741.3" y2="250.3" stroke="#000" stroke-width="0.6"/>
<polygon points="741.3,250.3 745.47,243.09 747.69,244.96" fill="#000"/>
<line x1="653.2" y1="276.9" x2="693.3" y2="294" stroke="#000" stroke-width="0.6"/>
<polygon points="693.3,294 685.19,292.12 686.33,289.45" fill="#000"/>
<line x1="666.9" y1="347.7" x2="714.8" y2="321.2" stroke="#000" stroke-width="0.6"/>
<polygon points="714.8,321.2 708.33,326.44 706.92,323.9" fill="#000"/>
<path d="M187.4 519.7 L309.8 519.7 L316.7 529.6 Q316.9 546 316.7 561.5 L309.8 572.7 M187.4 519.7 L178.5 530 L178.5 561 Q178.7 564.6 181.5 567 L190.2 572.7" stroke="#000" stroke-width="0.75" fill="none" />
<line x1="190.2" y1="572.7" x2="309.8" y2="572.7" stroke="#444" stroke-width="0.8"/>
<rect x="186.6" y="519.4" width="2.4" height="2" stroke="#000" stroke-width="0.5" fill="#fff"/>
<rect x="304.9" y="519.7" width="4.9" height="2" stroke="#000" stroke-width="0.5" fill="#fff"/>
<rect x="304.9" y="570.7" width="4.9" height="2" stroke="#000" stroke-width="0.5" fill="#fff"/>
<line x1="230.4" y1="541.2" x2="245.5" y2="541.2" stroke="#000" stroke-width="0.75"/>
<line x1="230.4" y1="551.6" x2="245.5" y2="551.6" stroke="#000" stroke-width="0.75"/>
<line x1="249.6" y1="541.2" x2="265.3" y2="541.2" stroke="#000" stroke-width="0.75"/>
<line x1="249.6" y1="551.6" x2="265.3" y2="551.6" stroke="#000" stroke-width="0.75"/>
<line x1="269.4" y1="541.2" x2="285.5" y2="541.2" stroke="#000" stroke-width="0.75"/>
<line x1="269.4" y1="551.6" x2="285.5" y2="551.6" stroke="#000" stroke-width="0.75"/>
<line x1="190.2" y1="519.7" x2="190.2" y2="572.7" stroke="#000" stroke-width="0.75"/>
<line x1="194.2" y1="519.7" x2="194.2" y2="572.7" stroke="#000" stroke-width="0.75"/>
<line x1="206.4" y1="519.7" x2="206.4" y2="572.7" stroke="#000" stroke-width="0.75"/>
<line x1="210.4" y1="519.7" x2="210.4" y2="572.7" stroke="#000" stroke-width="0.75"/>
<line x1="226.6" y1="519.7" x2="226.6" y2="572.7" stroke="#000" stroke-width="0.75"/>
<line x1="230.4" y1="519.7" x2="230.4" y2="572.7" stroke="#000" stroke-width="0.75"/>
<line x1="245.5" y1="519.7" x2="245.5" y2="572.7" stroke="#000" stroke-width="0.75"/>
<line x1="249.6" y1="519.7" x2="249.6" y2="572.7" stroke="#000" stroke-width="0.75"/>
<line x1="265.3" y1="519.7" x2="265.3" y2="572.7" stroke="#000" stroke-width="0.75"/>
<line x1="269.4" y1="519.7" x2="269.4" y2="572.7" stroke="#000" stroke-width="0.75"/>
<line x1="285.5" y1="519.7" x2="285.5" y2="572.7" stroke="#000" stroke-width="0.75"/>
<line x1="289.3" y1="519.7" x2="289.3" y2="572.7" stroke="#000" stroke-width="0.75"/>
<line x1="300.5" y1="519.7" x2="300.5" y2="572.7" stroke="#000" stroke-width="0.75"/>
<line x1="304.5" y1="519.7" x2="304.5" y2="572.7" stroke="#000" stroke-width="0.75"/>
<line x1="286.4" y1="519.7" x2="286.4" y2="572.7" stroke="#777" stroke-width="0.4"/>
<line x1="288.2" y1="519.7" x2="288.2" y2="572.7" stroke="#777" stroke-width="0.4"/>
<circle cx="287.3" cy="529.4" r="0.9" stroke="#000" stroke-width="0.45" fill="#fff"/>
<circle cx="287.3" cy="563.5" r="0.9" stroke="#000" stroke-width="0.45" fill="#fff"/>
<circle cx="194.2" cy="546.1" r="13.8" stroke="#000" stroke-width="0.75" fill="#fff"/>
<rect x="192.9" y="536.2" width="2.6" height="19.8" stroke="#222" stroke-width="0.55" fill="#999" rx="0.8"/>
<circle cx="301.3" cy="546.1" r="13.8" stroke="#000" stroke-width="0.75" fill="#fff"/>
<rect x="300" y="536.2" width="2.6" height="19.8" stroke="#222" stroke-width="0.55" fill="#999" rx="0.8"/>
<circle cx="280.05" cy="546.3" r="2.2" stroke="#000" stroke-width="0.65" fill="#fff"/>
<rect x="175.3" y="541.5" width="4.8" height="8.9" stroke="#000" stroke-width="0.5" fill="#fff"/>
<rect x="315" y="541.5" width="9.3" height="9.7" stroke="#000" stroke-width="0.5" fill="#fff"/>
<rect x="315.6" y="542.7" width="3.8" height="7.3" stroke="#000" stroke-width="0.45" fill="#fff"/>
<g transform="translate(315.2 571.3) rotate(45)">
<rect x="-3.1" y="-3.6" width="6.2" height="7.2" stroke="#000" stroke-width="0.7" fill="#fff"/>
<line x1="-3.1" y1="-2" x2="3.1" y2="-2" stroke="#000" stroke-width="0.55"/>
<line x1="-3.1" y1="-0.8" x2="3.1" y2="-0.8" stroke="#000" stroke-width="0.55"/>
<circle cx="0" cy="1.5" r="1.4" stroke="#000" stroke-width="0.6" fill="none"/>
</g>
<line x1="326.7" y1="541.5" x2="435.2" y2="541.5" stroke="#000" stroke-width="0.7" stroke-dasharray="9.5 1.8 3.2 1.8"/>
<line x1="326.7" y1="551.3" x2="435.2" y2="551.3" stroke="#000" stroke-width="0.7" stroke-dasharray="9.5 1.8 3.2 1.8"/>
<rect x="362.2" y="541.5" width="30.3" height="9.8" stroke="#111" stroke-width="0.6" fill="none" stroke-dasharray="2.6 1.2"/>
<path d="M368.0 551.0 L363.7 555.9 Q359.7 560.4 359.5 564.7 L359.5 568.5 L370.8 568.5 L370.8 563.0 L381.7 550.8" stroke="#000" stroke-width="0.7" fill="none" stroke-dasharray="3.8 1.3" />
<line x1="364.2" y1="556.3" x2="370.8" y2="562.8" stroke="#000" stroke-width="0.7" stroke-dasharray="2.6 1.6 5 0"/>
<path d="M449.8 519.7 L545.6 519.7 L552.9 529.6 Q553.1 546 552.9 561.5 L545.6 572.7 M449.8 519.7 L442.1 530 L442.1 561 Q442.3 564.6 445.1 567 L449.8 572.7" stroke="#000" stroke-width="0.75" fill="none" />
<line x1="449.8" y1="572.7" x2="545.6" y2="572.7" stroke="#444" stroke-width="0.8"/>
<rect x="449.8" y="519.7" width="4" height="2" stroke="#000" stroke-width="0.5" fill="#fff"/>
<rect x="541.6" y="519.7" width="4" height="2" stroke="#000" stroke-width="0.5" fill="#fff"/>
<rect x="449.8" y="570.7" width="4" height="2" stroke="#000" stroke-width="0.5" fill="#fff"/>
<rect x="541.6" y="570.7" width="4" height="2" stroke="#000" stroke-width="0.5" fill="#fff"/>
<line x1="474.3" y1="541.2" x2="490.2" y2="541.2" stroke="#000" stroke-width="0.75"/>
<line x1="474.3" y1="551.6" x2="490.2" y2="551.6" stroke="#000" stroke-width="0.75"/>
<line x1="494.2" y1="541.2" x2="501.5" y2="541.2" stroke="#000" stroke-width="0.75"/>
<line x1="494.2" y1="551.6" x2="501.5" y2="551.6" stroke="#000" stroke-width="0.75"/>
<line x1="454.2" y1="519.7" x2="454.2" y2="572.7" stroke="#000" stroke-width="0.75"/>
<line x1="458.4" y1="519.7" x2="458.4" y2="572.7" stroke="#000" stroke-width="0.75"/>
<line x1="470.4" y1="519.7" x2="470.4" y2="572.7" stroke="#000" stroke-width="0.75"/>
<line x1="474.3" y1="519.7" x2="474.3" y2="572.7" stroke="#000" stroke-width="0.75"/>
<line x1="490.2" y1="519.7" x2="490.2" y2="572.7" stroke="#000" stroke-width="0.75"/>
<line x1="494.2" y1="519.7" x2="494.2" y2="572.7" stroke="#000" stroke-width="0.75"/>
<line x1="501.5" y1="519.7" x2="501.5" y2="572.7" stroke="#000" stroke-width="0.75"/>
<line x1="505.6" y1="519.7" x2="505.6" y2="572.7" stroke="#000" stroke-width="0.75"/>
<line x1="521.4" y1="519.7" x2="521.4" y2="572.7" stroke="#000" stroke-width="0.75"/>
<line x1="525.4" y1="519.7" x2="525.4" y2="572.7" stroke="#000" stroke-width="0.75"/>
<rect x="536.2" y="519.7" width="1.4" height="53" stroke="#000" stroke-width="0" fill="#b5b5b5"/>
<rect x="539.8" y="519.7" width="1.4" height="53" stroke="#000" stroke-width="0" fill="#b5b5b5"/>
<line x1="522.5" y1="519.7" x2="522.5" y2="572.7" stroke="#777" stroke-width="0.4"/>
<line x1="524.3" y1="519.7" x2="524.3" y2="572.7" stroke="#777" stroke-width="0.4"/>
<circle cx="523.4" cy="529.4" r="0.9" stroke="#000" stroke-width="0.45" fill="#fff"/>
<circle cx="523.4" cy="563.5" r="0.9" stroke="#000" stroke-width="0.45" fill="#fff"/>
<circle cx="458.1" cy="546.1" r="13.8" stroke="#000" stroke-width="0.75" fill="#fff"/>
<rect x="457.6" y="536.2" width="1" height="19.8" stroke="#222" stroke-width="0.3" fill="#222"/>
<circle cx="537.2" cy="546.1" r="13.8" stroke="#000" stroke-width="0.75" fill="#fff"/>
<rect x="535.9" y="536.2" width="2.6" height="19.8" stroke="#222" stroke-width="0.55" fill="#fff" rx="0.8"/>
<circle cx="479.3" cy="546.3" r="2.2" stroke="#000" stroke-width="0.65" fill="#fff"/>
<line x1="491.4" y1="519.7" x2="491.4" y2="572.7" stroke="#000" stroke-width="0.4"/>
<rect x="435.3" y="541.5" width="9.2" height="10.1" stroke="#000" stroke-width="0.5" fill="#fff"/>
<line x1="437.9" y1="541.5" x2="437.9" y2="551.6" stroke="#000" stroke-width="0.6"/>
<line x1="439.3" y1="541.5" x2="439.3" y2="551.6" stroke="#000" stroke-width="0.6"/>
<rect x="440.4" y="543.2" width="4.1" height="6.8" stroke="#000" stroke-width="0.45" fill="#fff"/>
<rect x="551.3" y="541.2" width="9.4" height="9.6" stroke="#000" stroke-width="0.5" fill="#fff"/>
<rect x="551.8" y="543" width="4" height="6.2" stroke="#000" stroke-width="0.45" fill="#fff"/>
<g transform="translate(551.8 572.2) rotate(45)">
<rect x="-3.1" y="-3.6" width="6.2" height="7.2" stroke="#000" stroke-width="0.7" fill="#fff"/>
<line x1="-3.1" y1="-2" x2="3.1" y2="-2" stroke="#000" stroke-width="0.55"/>
<line x1="-3.1" y1="-0.8" x2="3.1" y2="-0.8" stroke="#000" stroke-width="0.55"/>
<circle cx="0" cy="1.5" r="1.4" stroke="#000" stroke-width="0.6" fill="none"/>
</g>
<line x1="477.3" y1="486.6" x2="477.3" y2="541" stroke="#000" stroke-width="0.6"/>
<line x1="481.5" y1="486.6" x2="481.5" y2="541" stroke="#000" stroke-width="0.6"/>
<line x1="175.5" y1="556.2" x2="175.5" y2="605.8" stroke="#000" stroke-width="0.6"/>
<line x1="324.4" y1="556.2" x2="324.4" y2="605.8" stroke="#000" stroke-width="0.6"/>
<line x1="175.5" y1="603" x2="324.4" y2="603" stroke="#000" stroke-width="0.6"/>
<polygon points="175.5,603 183.7,601.55 183.7,604.45" fill="#000"/>
<polygon points="324.4,603 316.2,604.45 316.2,601.55" fill="#000"/>
<text x="249.95" y="600.2" font-size="10" fill="#000" stroke="#000" stroke-width="0.27" text-anchor="middle" transform="rotate(0.05 249.95 600.2)" >2630</text>
<line x1="435.4" y1="556.2" x2="435.4" y2="605.8" stroke="#000" stroke-width="0.6"/>
<line x1="560.7" y1="556.2" x2="560.7" y2="605.8" stroke="#000" stroke-width="0.6"/>
<line x1="435.4" y1="603" x2="560.7" y2="603" stroke="#000" stroke-width="0.6"/>
<polygon points="435.4,603 443.6,601.55 443.6,604.45" fill="#000"/>
<polygon points="560.7,603 552.5,604.45 552.5,601.55" fill="#000"/>
<text x="498.05" y="600.2" font-size="10" fill="#000" stroke="#000" stroke-width="0.27" text-anchor="middle" transform="rotate(0.05 498.05 600.2)" >2210</text>
<line x1="122.2" y1="541.3" x2="169.9" y2="541.3" stroke="#000" stroke-width="0.6"/>
<line x1="122.2" y1="550.5" x2="169.9" y2="550.5" stroke="#000" stroke-width="0.6"/>
<line x1="125.5" y1="528" x2="125.5" y2="602.8" stroke="#000" stroke-width="0.6"/>
<polygon points="125.5,541.3 124.05,533.1 126.95,533.1" fill="#000"/>
<polygon points="125.5,550.7 126.95,558.9 124.05,558.9" fill="#000"/>
<text x="122.6" y="587.9" font-size="10" fill="#000" stroke="#000" stroke-width="0.27" text-anchor="middle" transform="rotate(-89.95 122.6 587.9)" >Ø160</text>
<line x1="348.5" y1="524.2" x2="348.5" y2="596.5" stroke="#000" stroke-width="0.6"/>
<polygon points="348.5,541.3 347.05,533.1 349.95,533.1" fill="#000"/>
<polygon points="348.5,550.7 349.95,558.9 347.05,558.9" fill="#000"/>
<text x="345.6" y="582.2" font-size="10" fill="#000" stroke="#000" stroke-width="0.27" text-anchor="middle" transform="rotate(-89.95 345.6 582.2)" >Ø160</text>
<line x1="421" y1="524.2" x2="421" y2="596.5" stroke="#000" stroke-width="0.6"/>
<polygon points="421,541.3 419.55,533.1 422.45,533.1" fill="#000"/>
<polygon points="421,550.7 422.45,558.9 419.55,558.9" fill="#000"/>
<text x="417.8" y="582.2" font-size="10" fill="#000" stroke="#000" stroke-width="0.27" text-anchor="middle" transform="rotate(-89.95 417.8 582.2)" >Ø160</text>
<line x1="561.4" y1="541.3" x2="592" y2="541.3" stroke="#000" stroke-width="0.6"/>
<line x1="561.4" y1="550.5" x2="592" y2="550.5" stroke="#000" stroke-width="0.6"/>
<line x1="588.9" y1="524.2" x2="588.9" y2="596.5" stroke="#000" stroke-width="0.6"/>
<polygon points="588.9,541.3 587.45,533.1 590.35,533.1" fill="#000"/>
<polygon points="588.9,550.7 590.35,558.9 587.45,558.9" fill="#000"/>
<text x="586" y="582.2" font-size="10" fill="#000" stroke="#000" stroke-width="0.27" text-anchor="middle" transform="rotate(-89.95 586 582.2)" >Ø160</text>
<line x1="566.2" y1="550.5" x2="592" y2="550.5" stroke="#000" stroke-width="0.6"/>
<text x="448.6" y="486.8" font-size="10" fill="#000" stroke="#000" stroke-width="0.27" text-anchor="middle" transform="rotate(0.05 448.6 486.8)" >Ø75</text>
<line x1="436.3" y1="489.6" x2="477.3" y2="489.6" stroke="#000" stroke-width="0.6"/>
<line x1="481.5" y1="489.6" x2="498.7" y2="489.6" stroke="#000" stroke-width="0.6"/>
<polygon points="477.3,489.6 469.1,491.05 469.1,488.15" fill="#000"/>
<polygon points="481.5,489.6 489.7,488.15 489.7,491.05" fill="#000"/>
<text x="376.8" y="486.5" font-size="10" fill="#000" stroke="#000" stroke-width="0.27" text-anchor="middle" transform="rotate(0.05 376.8 486.5)" >A-A</text>
<line x1="163.5" y1="475.4" x2="188" y2="519.4" stroke="#000" stroke-width="0.6"/>
<polygon points="188,519.4 182.74,512.94 185.28,511.53" fill="#000"/>
<line x1="156" y1="503.6" x2="184.4" y2="534.9" stroke="#000" stroke-width="0.6"/>
<polygon points="184.4,534.9 177.82,529.8 179.96,527.85" fill="#000"/>
<line x1="129.3" y1="517.9" x2="175.3" y2="545.4" stroke="#000" stroke-width="0.6"/>
<polygon points="175.3,545.4 167.52,542.44 169.01,539.95" fill="#000"/>
<line x1="233" y1="489.5" x2="278.4" y2="544" stroke="#000" stroke-width="0.6"/>
<polygon points="278.4,544 272.04,538.63 274.27,536.77" fill="#000"/>
<line x1="331.6" y1="503.6" x2="309.8" y2="533.8" stroke="#000" stroke-width="0.6"/>
<polygon points="309.8,533.8 313.42,526.3 315.78,528" fill="#000"/>
<line x1="305.9" y1="631.2" x2="287.3" y2="564.3" stroke="#000" stroke-width="0.6"/>
<polygon points="287.3,564.3 290.89,571.81 288.1,572.59" fill="#000"/>
<line x1="357.6" y1="617.1" x2="317.9" y2="574.6" stroke="#000" stroke-width="0.6"/>
<polygon points="317.9,574.6 324.56,579.6 322.44,581.58" fill="#000"/>
<line x1="394.5" y1="645.6" x2="365.4" y2="569.4" stroke="#000" stroke-width="0.6"/>
<polygon points="365.4,569.4 369.68,576.54 366.97,577.58" fill="#000"/>
<line x1="419.9" y1="503.6" x2="447.6" y2="534.6" stroke="#000" stroke-width="0.6"/>
<polygon points="447.6,534.6 441.06,529.45 443.22,527.52" fill="#000"/>
<line x1="538.4" y1="475.4" x2="481.3" y2="544.2" stroke="#000" stroke-width="0.6"/>
<polygon points="481.3,544.2 485.42,536.96 487.65,538.82" fill="#000"/>
<line x1="567.6" y1="503.6" x2="546" y2="533.8" stroke="#000" stroke-width="0.6"/>
<polygon points="546,533.8 549.59,526.29 551.95,527.97" fill="#000"/>
<line x1="606.5" y1="517.8" x2="561" y2="545.5" stroke="#000" stroke-width="0.6"/>
<polygon points="561,545.5 567.25,540 568.76,542.47" fill="#000"/>
<line x1="541.9" y1="631.2" x2="523.4" y2="563.9" stroke="#000" stroke-width="0.6"/>
<polygon points="523.4,563.9 526.97,571.42 524.18,572.19" fill="#000"/>
<line x1="593.5" y1="616.9" x2="554.9" y2="574.6" stroke="#000" stroke-width="0.6"/>
<polygon points="554.9,574.6 561.5,579.68 559.36,581.63" fill="#000"/>
<rect x="111.35" y="209.9" width="27.9" height="20.8" rx="10.4" ry="10.4" fill="#fe0606" stroke="#0a0000" stroke-width="0.55"/>
<text x="125.15" y="225.3" font-size="14" fill="#fff" stroke="#fff" stroke-width="0.3" text-anchor="middle" transform="rotate(0.05 125.15 225.3)" style="letter-spacing:0;stroke-width:0.08px">E1</text>
<circle cx="188.5" cy="220.3" r="10.3" fill="#fe0606" stroke="#0a0000" stroke-width="0.55"/>
<text x="188.35" y="225.3" font-size="14" fill="#fff" stroke="#fff" stroke-width="0.3" text-anchor="middle" transform="rotate(0.05 188.35 225.3)" style="letter-spacing:0;stroke-width:0.08px">D</text>
<circle cx="254.5" cy="206" r="10.3" fill="#fe0606" stroke="#0a0000" stroke-width="0.55"/>
<text x="254.35" y="211" font-size="14" fill="#fff" stroke="#fff" stroke-width="0.3" text-anchor="middle" transform="rotate(0.05 254.35 211)" style="letter-spacing:0;stroke-width:0.08px">I</text>
<circle cx="280.2" cy="177.5" r="10.3" fill="#fe0606" stroke="#0a0000" stroke-width="0.55"/>
<text x="280.05" y="182.5" font-size="14" fill="#fff" stroke="#fff" stroke-width="0.3" text-anchor="middle" transform="rotate(0.05 280.05 182.5)" style="letter-spacing:0;stroke-width:0.08px">T</text>
<circle cx="306.9" cy="220.3" r="10.3" fill="#fe0606" stroke="#0a0000" stroke-width="0.55"/>
<text x="306.75" y="225.3" font-size="14" fill="#fff" stroke="#fff" stroke-width="0.3" text-anchor="middle" transform="rotate(0.05 306.75 225.3)" style="letter-spacing:0;stroke-width:0.08px">D</text>
<circle cx="347.5" cy="205.9" r="10.3" fill="#fe0606" stroke="#0a0000" stroke-width="0.55"/>
<text x="347.35" y="210.9" font-size="14" fill="#fff" stroke="#fff" stroke-width="0.3" text-anchor="middle" transform="rotate(0.05 347.35 210.9)" style="letter-spacing:0;stroke-width:0.08px">G</text>
<rect x="374.05" y="181.6" width="27.9" height="20.8" rx="10.4" ry="10.4" fill="#fe0606" stroke="#0a0000" stroke-width="0.55"/>
<text x="387.85" y="197" font-size="14" fill="#fff" stroke="#fff" stroke-width="0.3" text-anchor="middle" transform="rotate(0.05 387.85 197)" style="letter-spacing:0;stroke-width:0.08px">E2</text>
<circle cx="419.4" cy="205.9" r="10.3" fill="#fe0606" stroke="#0a0000" stroke-width="0.55"/>
<text x="419.25" y="210.9" font-size="14" fill="#fff" stroke="#fff" stroke-width="0.3" text-anchor="middle" transform="rotate(0.05 419.25 210.9)" style="letter-spacing:0;stroke-width:0.08px">G</text>
<circle cx="452.5" cy="220.3" r="10.3" fill="#fe0606" stroke="#0a0000" stroke-width="0.55"/>
<text x="452.35" y="225.3" font-size="14" fill="#fff" stroke="#fff" stroke-width="0.3" text-anchor="middle" transform="rotate(0.05 452.35 225.3)" style="letter-spacing:0;stroke-width:0.08px">D</text>
<circle cx="479.5" cy="177.5" r="10.3" fill="#fe0606" stroke="#0a0000" stroke-width="0.55"/>
<text x="479.35" y="182.5" font-size="14" fill="#fff" stroke="#fff" stroke-width="0.3" text-anchor="middle" transform="rotate(0.05 479.35 182.5)" style="letter-spacing:0;stroke-width:0.08px">T</text>
<circle cx="509.6" cy="206.1" r="10.3" fill="#fe0606" stroke="#0a0000" stroke-width="0.55"/>
<text x="509.45" y="211.1" font-size="14" fill="#fff" stroke="#fff" stroke-width="0.3" text-anchor="middle" transform="rotate(0.05 509.45 211.1)" style="letter-spacing:0;stroke-width:0.08px">I</text>
<circle cx="543.2" cy="220.3" r="10.3" fill="#fe0606" stroke="#0a0000" stroke-width="0.55"/>
<text x="543.05" y="225.3" font-size="14" fill="#fff" stroke="#fff" stroke-width="0.3" text-anchor="middle" transform="rotate(0.05 543.05 225.3)" style="letter-spacing:0;stroke-width:0.08px">D</text>
<circle cx="583.5" cy="206.1" r="10.3" fill="#fe0606" stroke="#0a0000" stroke-width="0.55"/>
<text x="583.35" y="211.1" font-size="14" fill="#fff" stroke="#fff" stroke-width="0.3" text-anchor="middle" transform="rotate(0.05 583.35 211.1)" style="letter-spacing:0;stroke-width:0.08px">G</text>
<circle cx="606.6" cy="234.3" r="10.3" fill="#fe0606" stroke="#0a0000" stroke-width="0.55"/>
<text x="606.45" y="239.3" font-size="14" fill="#fff" stroke="#fff" stroke-width="0.3" text-anchor="middle" transform="rotate(0.05 606.45 239.3)" style="letter-spacing:0;stroke-width:0.08px">F</text>
<circle cx="161.8" cy="291" r="10.3" fill="#fe0606" stroke="#0a0000" stroke-width="0.55"/>
<text x="161.65" y="296" font-size="14" fill="#fff" stroke="#fff" stroke-width="0.3" text-anchor="middle" transform="rotate(0.05 161.65 296)" style="letter-spacing:0;stroke-width:0.08px">S</text>
<circle cx="247.9" cy="291.1" r="10.3" fill="#fe0606" stroke="#0a0000" stroke-width="0.55"/>
<text x="247.75" y="296.1" font-size="14" fill="#fff" stroke="#fff" stroke-width="0.3" text-anchor="middle" transform="rotate(0.05 247.75 296.1)" style="letter-spacing:0;stroke-width:0.08px">A</text>
<circle cx="426" cy="291.1" r="10.3" fill="#fe0606" stroke="#0a0000" stroke-width="0.55"/>
<text x="425.85" y="296.1" font-size="14" fill="#fff" stroke="#fff" stroke-width="0.3" text-anchor="middle" transform="rotate(0.05 425.85 296.1)" style="letter-spacing:0;stroke-width:0.08px">S</text>
<circle cx="492.1" cy="291.1" r="10.3" fill="#fe0606" stroke="#0a0000" stroke-width="0.55"/>
<text x="491.95" y="296.1" font-size="14" fill="#fff" stroke="#fff" stroke-width="0.3" text-anchor="middle" transform="rotate(0.05 491.95 296.1)" style="letter-spacing:0;stroke-width:0.08px">B</text>
<circle cx="152.3" cy="362" r="10.3" fill="#fe0606" stroke="#0a0000" stroke-width="0.55"/>
<text x="152.15" y="367" font-size="14" fill="#fff" stroke="#fff" stroke-width="0.3" text-anchor="middle" transform="rotate(0.05 152.15 367)" style="letter-spacing:0;stroke-width:0.08px">L</text>
<circle cx="295.1" cy="375.9" r="10.3" fill="#fe0606" stroke="#0a0000" stroke-width="0.55"/>
<text x="294.95" y="380.9" font-size="14" fill="#fff" stroke="#fff" stroke-width="0.3" text-anchor="middle" transform="rotate(0.05 294.95 380.9)" style="letter-spacing:0;stroke-width:0.08px">M</text>
<circle cx="531.1" cy="375.9" r="10.3" fill="#fe0606" stroke="#0a0000" stroke-width="0.55"/>
<text x="530.95" y="380.9" font-size="14" fill="#fff" stroke="#fff" stroke-width="0.3" text-anchor="middle" transform="rotate(0.05 530.95 380.9)" style="letter-spacing:0;stroke-width:0.08px">M</text>
<rect x="665.65" y="195.6" width="27.9" height="20.8" rx="10.4" ry="10.4" fill="#fe0606" stroke="#0a0000" stroke-width="0.55"/>
<text x="679.45" y="211" font-size="14" fill="#fff" stroke="#fff" stroke-width="0.3" text-anchor="middle" transform="rotate(0.05 679.45 211)" style="letter-spacing:0;stroke-width:0.08px">E1</text>
<circle cx="744.9" cy="191.8" r="10.3" fill="#fe0606" stroke="#0a0000" stroke-width="0.55"/>
<text x="744.75" y="196.8" font-size="14" fill="#fff" stroke="#fff" stroke-width="0.3" text-anchor="middle" transform="rotate(0.05 744.75 196.8)" style="letter-spacing:0;stroke-width:0.08px">G</text>
<rect x="768.45" y="195.6" width="27.9" height="20.8" rx="10.4" ry="10.4" fill="#fe0606" stroke="#0a0000" stroke-width="0.55"/>
<text x="782.25" y="211" font-size="14" fill="#fff" stroke="#fff" stroke-width="0.3" text-anchor="middle" transform="rotate(0.05 782.25 211)" style="letter-spacing:0;stroke-width:0.08px">E2</text>
<circle cx="653.2" cy="276.9" r="10.3" fill="#fe0606" stroke="#0a0000" stroke-width="0.55"/>
<text x="653.05" y="281.9" font-size="14" fill="#fff" stroke="#fff" stroke-width="0.3" text-anchor="middle" transform="rotate(0.05 653.05 281.9)" style="letter-spacing:0;stroke-width:0.08px">M</text>
<circle cx="666.9" cy="347.7" r="10.3" fill="#fe0606" stroke="#0a0000" stroke-width="0.55"/>
<text x="666.75" y="352.7" font-size="14" fill="#fff" stroke="#fff" stroke-width="0.3" text-anchor="middle" transform="rotate(0.05 666.75 352.7)" style="letter-spacing:0;stroke-width:0.08px">N</text>
<circle cx="163.5" cy="475.4" r="10.3" fill="#fe0606" stroke="#0a0000" stroke-width="0.55"/>
<text x="163.35" y="480.4" font-size="14" fill="#fff" stroke="#fff" stroke-width="0.3" text-anchor="middle" transform="rotate(0.05 163.35 480.4)" style="letter-spacing:0;stroke-width:0.08px">L</text>
<circle cx="156" cy="503.6" r="10.3" fill="#fe0606" stroke="#0a0000" stroke-width="0.55"/>
<text x="155.85" y="508.6" font-size="14" fill="#fff" stroke="#fff" stroke-width="0.3" text-anchor="middle" transform="rotate(0.05 155.85 508.6)" style="letter-spacing:0;stroke-width:0.08px">D</text>
<rect x="111.55" y="507.5" width="27.9" height="20.8" rx="10.4" ry="10.4" fill="#fe0606" stroke="#0a0000" stroke-width="0.55"/>
<text x="125.35" y="522.9" font-size="14" fill="#fff" stroke="#fff" stroke-width="0.3" text-anchor="middle" transform="rotate(0.05 125.35 522.9)" style="letter-spacing:0;stroke-width:0.08px">E1</text>
<circle cx="233" cy="489.5" r="10.3" fill="#fe0606" stroke="#0a0000" stroke-width="0.55"/>
<text x="232.85" y="494.5" font-size="14" fill="#fff" stroke="#fff" stroke-width="0.3" text-anchor="middle" transform="rotate(0.05 232.85 494.5)" style="letter-spacing:0;stroke-width:0.08px">T</text>
<circle cx="331.6" cy="503.6" r="10.3" fill="#fe0606" stroke="#0a0000" stroke-width="0.55"/>
<text x="331.45" y="508.6" font-size="14" fill="#fff" stroke="#fff" stroke-width="0.3" text-anchor="middle" transform="rotate(0.05 331.45 508.6)" style="letter-spacing:0;stroke-width:0.08px">D</text>
<circle cx="305.9" cy="631.2" r="10.3" fill="#fe0606" stroke="#0a0000" stroke-width="0.55"/>
<text x="305.75" y="636.2" font-size="14" fill="#fff" stroke="#fff" stroke-width="0.3" text-anchor="middle" transform="rotate(0.05 305.75 636.2)" style="letter-spacing:0;stroke-width:0.08px">I</text>
<circle cx="357.6" cy="617.1" r="10.3" fill="#fe0606" stroke="#0a0000" stroke-width="0.55"/>
<text x="357.45" y="622.1" font-size="14" fill="#fff" stroke="#fff" stroke-width="0.3" text-anchor="middle" transform="rotate(0.05 357.45 622.1)" style="letter-spacing:0;stroke-width:0.08px">P</text>
<rect x="384.35" y="635.2" width="27.9" height="20.8" rx="10.4" ry="10.4" fill="#fe0606" stroke="#0a0000" stroke-width="0.55"/>
<text x="398.15" y="650.6" font-size="14" fill="#fff" stroke="#fff" stroke-width="0.3" text-anchor="middle" transform="rotate(0.05 398.15 650.6)" style="letter-spacing:0;stroke-width:0.08px">E2</text>
<circle cx="419.9" cy="503.6" r="10.3" fill="#fe0606" stroke="#0a0000" stroke-width="0.55"/>
<text x="419.75" y="508.6" font-size="14" fill="#fff" stroke="#fff" stroke-width="0.3" text-anchor="middle" transform="rotate(0.05 419.75 508.6)" style="letter-spacing:0;stroke-width:0.08px">D</text>
<circle cx="538.4" cy="475.4" r="10.3" fill="#fe0606" stroke="#0a0000" stroke-width="0.55"/>
<text x="538.25" y="480.4" font-size="14" fill="#fff" stroke="#fff" stroke-width="0.3" text-anchor="middle" transform="rotate(0.05 538.25 480.4)" style="letter-spacing:0;stroke-width:0.08px">T</text>
<circle cx="567.6" cy="503.6" r="10.3" fill="#fe0606" stroke="#0a0000" stroke-width="0.55"/>
<text x="567.45" y="508.6" font-size="14" fill="#fff" stroke="#fff" stroke-width="0.3" text-anchor="middle" transform="rotate(0.05 567.45 508.6)" style="letter-spacing:0;stroke-width:0.08px">D</text>
<circle cx="606.5" cy="517.8" r="10.3" fill="#fe0606" stroke="#0a0000" stroke-width="0.55"/>
<text x="606.35" y="522.8" font-size="14" fill="#fff" stroke="#fff" stroke-width="0.3" text-anchor="middle" transform="rotate(0.05 606.35 522.8)" style="letter-spacing:0;stroke-width:0.08px">F</text>
<circle cx="541.9" cy="631.2" r="10.3" fill="#fe0606" stroke="#0a0000" stroke-width="0.55"/>
<text x="541.75" y="636.2" font-size="14" fill="#fff" stroke="#fff" stroke-width="0.3" text-anchor="middle" transform="rotate(0.05 541.75 636.2)" style="letter-spacing:0;stroke-width:0.08px">I</text>
<circle cx="593.5" cy="616.9" r="10.3" fill="#fe0606" stroke="#0a0000" stroke-width="0.55"/>
<text x="593.35" y="621.9" font-size="14" fill="#fff" stroke="#fff" stroke-width="0.3" text-anchor="middle" transform="rotate(0.05 593.35 621.9)" style="letter-spacing:0;stroke-width:0.08px">P</text>
</svg></body></html>
